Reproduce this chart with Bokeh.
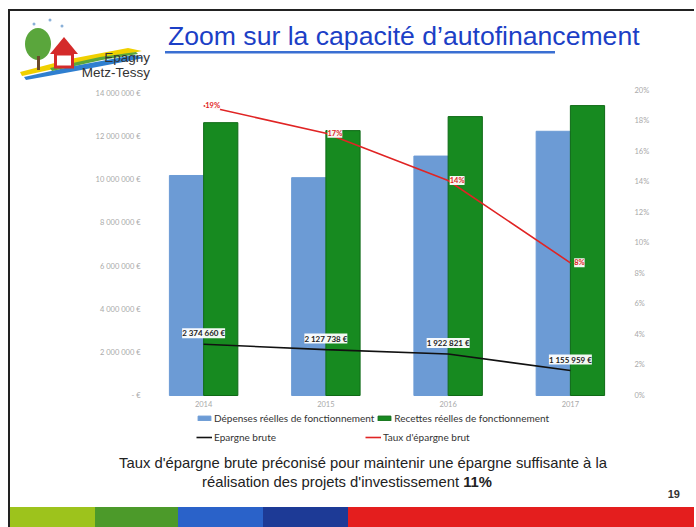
from bokeh.plotting import figure
from bokeh.layouts import column
from bokeh.models import (ColumnDataSource, Range1d, LinearAxis, FixedTicker, CustomJSTickFormatter,
                          LabelSet, Legend, LegendItem, Div)
from bokeh.transform import dodge
from bokeh.core.properties import value
from bokeh.embed import file_html
from bokeh.resources import INLINE

# ---------------- data ----------------
years = ["2014", "2015", "2016", "2017"]
depenses = [10_200_000, 10_100_000, 11_100_000, 12_250_000]
recettes = [12_650_000, 12_280_000, 12_930_000, 13_440_000]
epargne = [2_374_660, 2_127_738, 1_922_821, 1_155_959]
epargne_labels = ["2 374 660 €", "2 127 738 €", "1 922 821 €", "1 155 959 €"]
taux = [0.19, 0.172, 0.141, 0.087]
taux_labels = ["19%", "17%", "14%", "8%"]
left_ticks = [0, 2_000_000, 4_000_000, 6_000_000, 8_000_000, 10_000_000, 12_000_000, 14_000_000]
right_ticks = [0, 0.02, 0.04, 0.06, 0.08, 0.10, 0.12, 0.14, 0.16, 0.18, 0.20]

BLUE = "#6c9bd5"
GREEN = "#178a20"
RED = "#e02424"
AX = "#a9a9a9"
FONT = "Lato"
W = 684

# ---------------- header (logo + title) ----------------
header_svg = """
<svg width="684" height="69" xmlns="http://www.w3.org/2000/svg" style="display:block">
 <polygon points="10,61 60,48 118,37 132,40 62,54 12,65" fill="#f0d000"/>
 <polygon points="14,66 64,55 124,44 134,47 66,60 16,69" fill="#2f7fd0"/>
 <polygon points="40,57 90,46 126,41 128,43 92,49 42,60" fill="#5aa63c"/>
 <ellipse cx="28" cy="33" rx="13" ry="16" fill="#5aa63c"/>
 <rect x="27" y="45" width="3" height="14" fill="#6b4a2a"/>
 <polygon points="40,43 54,26 68,43" fill="#d42a2a"/>
 <rect x="45.5" y="43" width="17" height="13" fill="white" stroke="#d42a2a" stroke-width="3"/>
 <circle cx="24" cy="13" r="1.5" fill="#8ab0d8"/>
 <circle cx="40" cy="9" r="1.5" fill="#8ab0d8"/>
 <circle cx="52" cy="15" r="1.5" fill="#8ab0d8"/>
 <text x="140" y="51" text-anchor="end" font-family="Lato" font-size="13.5" fill="#333333">Epagny</text>
 <text x="140" y="66" text-anchor="end" font-family="Lato" font-size="13.5" fill="#333333">Metz-Tessy</text>
 <text x="158" y="34" font-family="Lato" font-size="26.6" fill="#1c3fc6">Zoom sur la capacité d’autofinancement</text>
 <rect x="155" y="40" width="390" height="2.5" fill="#3a6fd2"/>
</svg>
"""
head = Div(text=header_svg, width=W, height=69, margin=0)

# ---------------- chart ----------------
src = ColumnDataSource(dict(year=years, dep=depenses, rec=recettes, ep=epargne,
                            elab=epargne_labels, taux=taux, tlab=taux_labels))

p = figure(width=W, height=368, x_range=years, y_range=Range1d(-2_410_000, 14_140_000),
           output_backend="svg", toolbar_location=None, margin=0,
           min_border_left=132, min_border_right=W - 621, min_border_top=10, min_border_bottom=1)
p.extra_y_ranges = {"pct": Range1d(-0.0341, 0.20)}
p.x_range.range_padding = 0
p.grid.visible = False
p.outline_line_color = None

r_dep = p.vbar(x=dodge("year", -0.14, range=p.x_range), top="dep", width=0.28, source=src,
               fill_color=BLUE, line_color=BLUE)
r_rec = p.vbar(x=dodge("year", 0.14, range=p.x_range), top="rec", width=0.28, source=src,
               fill_color=GREEN, line_color="#0f6a16")
r_ep = p.line(x="year", y="ep", source=src, line_color="#111111", line_width=1.6)
r_tx = p.line(x="year", y="taux", source=src, y_range_name="pct", line_color=RED, line_width=1.6)

p.add_layout(LabelSet(x="year", y="ep", text="elab", source=src, y_offset=11,
                      text_align="center", text_baseline="middle", text_font=value(FONT),
                      text_font_size="8px", text_font_style="bold", text_color="#222222",
                      background_fill_color="white", background_fill_alpha=0.95))
p.add_layout(LabelSet(x="year", y="taux", text="tlab", source=src, y_range_name="pct", x_offset=9,
                      text_align="center", text_baseline="middle", text_font=value(FONT),
                      text_font_size="7.5px", text_font_style="bold", text_color=RED,
                      background_fill_color="white", background_fill_alpha=0.95))

for ax in [p.xaxis[0], p.yaxis[0]]:
    ax.axis_line_color = None
    ax.major_tick_line_color = None
    ax.minor_tick_line_color = None
    ax.major_tick_out = 0
    ax.major_tick_in = 0
    ax.major_label_text_color = AX
    ax.major_label_text_font = FONT
    ax.major_label_text_font_size = "7.5px"
p.xaxis.fixed_location = 0
p.xaxis.major_label_standoff = 5
p.yaxis.major_label_standoff = 2
p.yaxis.ticker = FixedTicker(ticks=left_ticks)
p.yaxis.formatter = CustomJSTickFormatter(code="""
if (tick == 0) { return '- €'; }
return tick.toFixed(0).replace(/\\B(?=(\\d{3})+(?!\\d))/g, ' ') + ' €';
""")
right = LinearAxis(y_range_name="pct", ticker=FixedTicker(ticks=right_ticks),
                   formatter=CustomJSTickFormatter(code="return Math.round(tick*100) + '%';"),
                   axis_line_color=None, major_tick_line_color=None, minor_tick_line_color=None,
                   major_tick_out=0, major_tick_in=0,
                   major_label_text_color=AX, major_label_text_font=FONT,
                   major_label_text_font_size="7.5px", major_label_standoff=3)
p.add_layout(right, "right")


def mk_legend(items, loc):
    return Legend(items=items, orientation="horizontal", location=loc,
                  label_text_font=FONT, label_text_font_size="10px", label_text_color="#333333",
                  glyph_width=16, glyph_height=6, label_height=11, label_standoff=2, spacing=2,
                  padding=0, margin=0, border_line_color=None, background_fill_alpha=0)


p.add_layout(mk_legend([LegendItem(label="Dépenses réelles de fonctionnement", renderers=[r_dep]),
                        LegendItem(label="Recettes réelles de fonctionnement", renderers=[r_rec])],
                       (54, 23)))
p.add_layout(mk_legend([LegendItem(label="Epargne brute", renderers=[r_ep])], (54, 4)))
p.add_layout(mk_legend([LegendItem(label="Taux d'épargne brut", renderers=[r_tx])], (223, 4)))

# ---------------- footer ----------------
footer_svg = """
<svg width="684" height="79" xmlns="http://www.w3.org/2000/svg" style="display:block">
 <text x="353" y="20" text-anchor="middle" font-family="Liberation Sans" font-size="14.8" fill="#222222">Taux d'épargne brute préconisé pour maintenir une épargne suffisante à la</text>
 <text x="337" y="39" text-anchor="middle" font-family="Liberation Sans" font-size="14.8" fill="#222222">réalisation des projets d'investissement <tspan font-weight="bold">11%</tspan></text>
 <text x="670" y="50" text-anchor="end" font-family="Liberation Sans" font-size="11" font-weight="bold" fill="#333333">19</text>
 <rect x="0" y="59" width="85" height="20" fill="#9dc31c"/>
 <rect x="85" y="59" width="83" height="20" fill="#4c9a2a"/>
 <rect x="168" y="59" width="85" height="20" fill="#2a62c9"/>
 <rect x="253" y="59" width="85" height="20" fill="#1d3a96"/>
 <rect x="338" y="59" width="346" height="20" fill="#e41e1e"/>
</svg>
"""
foot = Div(text=footer_svg, width=W, height=79, margin=0)

page = column(head, p, foot, spacing=0, margin=(9, 0, 0, 8),
              styles={"border-left": "2px solid #222222", "border-top": "2px solid #222222"})

open("out.html", "w").write(file_html(page, INLINE))
